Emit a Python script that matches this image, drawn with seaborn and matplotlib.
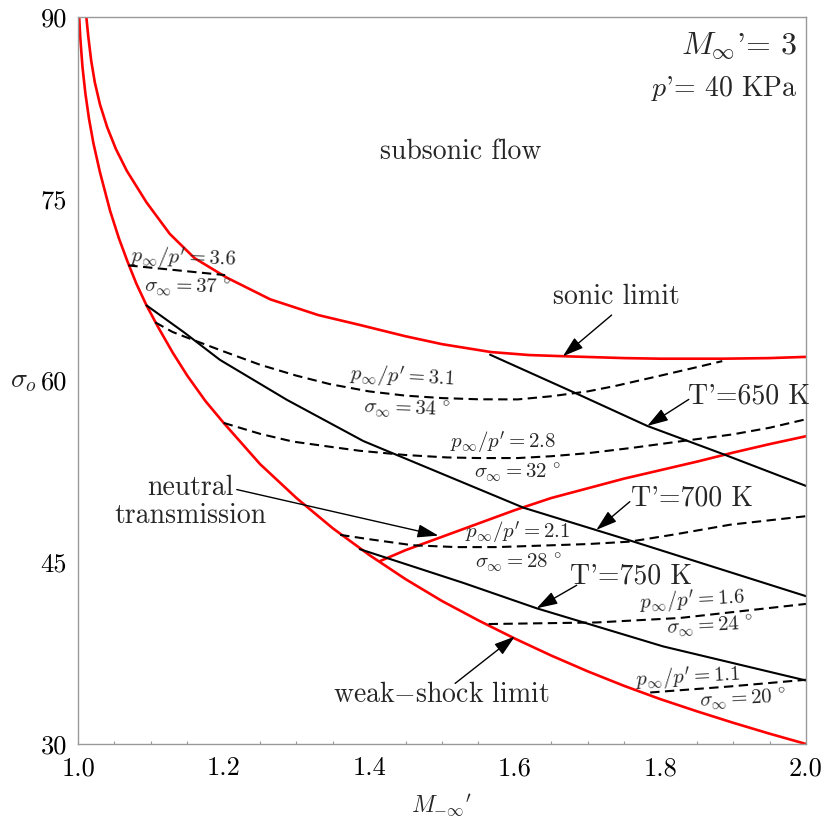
import matplotlib
matplotlib.use("Agg")
import matplotlib.pyplot as plt
import seaborn as sns
import pandas as pd
from matplotlib.ticker import MultipleLocator

# ---- data ----
weak_x = [1.0015, 1.003, 1.006, 1.01, 1.015, 1.021, 1.03, 1.044, 1.056, 1.068, 1.08, 1.094,
          1.11, 1.13, 1.15, 1.175, 1.2, 1.25, 1.3, 1.35, 1.4, 1.45, 1.5, 1.55, 1.6, 1.65,
          1.7, 1.75, 1.8, 1.85, 1.9, 1.95, 2.0]
weak_y = [90.0, 88.3, 85.9, 83.7, 81.6, 79.6, 77.2, 74.0, 71.75, 69.8, 68.0, 66.2,
          64.4, 62.3, 60.4, 58.3, 56.5, 53.1, 50.3, 47.8, 45.6, 43.6, 41.8, 40.2, 38.7, 37.3,
          36.0, 34.8, 33.7, 32.7, 31.75, 30.85, 30.0]

sonic_x = [1.011, 1.014, 1.018, 1.023, 1.03, 1.04, 1.052, 1.067, 1.094, 1.126, 1.16, 1.204,
           1.264, 1.33, 1.386, 1.45, 1.5, 1.567, 1.62, 1.669, 1.75, 1.8, 1.885, 1.95, 2.0]
sonic_y = [90.2, 88.4, 86.4, 84.6, 82.8, 80.9, 79.1, 77.3, 74.7, 72.1, 70.1, 68.5,
           66.7, 65.4, 64.6, 63.65, 63.0, 62.35, 62.1, 62.0, 61.85, 61.8, 61.8, 61.85, 61.95]

neutral_x = [1.415, 1.45, 1.5, 1.55, 1.6, 1.65, 1.7, 1.75, 1.8, 1.85, 1.9, 1.95, 2.0]
neutral_y = [45.1, 46.0, 47.1, 48.2, 49.3, 50.3, 51.1, 51.9, 52.6, 53.3, 54.05, 54.75, 55.4]

t650_x = [1.566, 1.687, 1.782, 1.885, 2.0]
t650_y = [62.13, 58.86, 56.25, 53.95, 51.3]
t700_x = [1.094, 1.145, 1.195, 1.287, 1.392, 1.5, 1.612, 1.758, 2.0]
t700_y = [66.2, 64.0, 61.7, 58.4, 55.0, 52.3, 49.5, 46.8, 42.2]
t750_x = [1.387, 1.529, 1.63, 1.804, 2.0]
t750_y = [46.08, 43.3, 41.2, 38.05, 35.24]

p36_x = [1.069, 1.202]
p36_y = [69.5, 68.7]
p31_x = [1.106, 1.13, 1.158, 1.2, 1.25, 1.3, 1.346, 1.4, 1.45, 1.5, 1.55, 1.604, 1.65, 1.7,
         1.738, 1.8, 1.85, 1.885]
p31_y = [64.8, 64.0, 63.35, 62.4, 61.3, 60.4, 59.7, 59.1, 58.75, 58.55, 58.45, 58.44, 58.7, 59.1,
         59.55, 60.4, 61.1, 61.6]
p28_x = [1.2, 1.25, 1.295, 1.35, 1.387, 1.45, 1.507, 1.55, 1.604, 1.65, 1.7, 1.761, 1.83,
         1.899, 1.95, 2.0]
p28_y = [56.5, 55.6, 54.96, 54.5, 54.2, 53.85, 53.65, 53.6, 53.6, 53.75, 54.0, 54.44, 55.0,
         55.55, 56.1, 56.8]
p21_x = [1.36, 1.4, 1.46, 1.52, 1.575, 1.65, 1.7, 1.758, 1.82, 1.896, 2.0]
p21_y = [47.26, 46.9, 46.4, 46.25, 46.25, 46.4, 46.5, 46.7, 47.3, 48.1, 48.8]
p16_x = [1.564, 1.712, 1.827, 2.0]
p16_y = [39.9, 40.03, 40.4, 41.56]
p11_x = [1.786, 1.896, 2.0]
p11_y = [34.25, 34.75, 35.3]

x_ticks = [1.0, 1.2, 1.4, 1.6, 1.8, 2.0]
y_ticks = [30, 45, 60, 75, 90]

# ---- style ----
sns.set_style("white")
plt.rcParams["font.family"] = ["serif"]
plt.rcParams["font.serif"] = ["cmr10", "DejaVu Serif"]
plt.rcParams["mathtext.fontset"] = "cm"
plt.rcParams["axes.formatter.use_mathtext"] = True

fig = plt.figure(figsize=(8.22, 8.19), dpi=100)
ax = fig.add_axes([0.095, 0.0916, 0.8855, 0.8876])

def draw(xs, ys, color, lw, dashes=None):
    df = pd.DataFrame({"x": xs, "y": ys})
    sns.lineplot(data=df, x="x", y="y", ax=ax, sort=False, estimator=None,
                 color=color, linewidth=lw)
    ln = ax.lines[-1]
    ln.set_solid_joinstyle("round")
    if dashes is not None:
        ln.set_dashes(dashes)

for xs, ys in [(weak_x, weak_y), (sonic_x, sonic_y), (neutral_x, neutral_y)]:
    draw(xs, ys, "#ff0000", 1.9)
for xs, ys in [(t650_x, t650_y), (t700_x, t700_y), (t750_x, t750_y)]:
    draw(xs, ys, "black", 1.5)
for xs, ys in [(p36_x, p36_y), (p31_x, p31_y), (p28_x, p28_y), (p21_x, p21_y),
               (p16_x, p16_y), (p11_x, p11_y)]:
    draw(xs, ys, "black", 1.5, dashes=(4.5, 2.6))

ax.set_xlim(1.0, 2.0)
ax.set_ylim(30, 90)
ax.set_xticks(x_ticks)
ax.set_xticklabels([f"{v:.1f}" for v in x_ticks])
ax.set_yticks(y_ticks)
ax.set_yticklabels([str(v) for v in y_ticks])
ax.xaxis.set_minor_locator(MultipleLocator(0.05))
ax.tick_params(axis="both", which="both", direction="in", color="#999999",
               labelsize=19, labelcolor="black", top=False, right=False)
ax.tick_params(axis="x", which="major", length=4, width=0.9, pad=9)
ax.tick_params(axis="x", which="minor", length=2, width=0.8, bottom=True)
ax.tick_params(axis="y", which="major", length=4, width=0.9, pad=8)
for s in ax.spines.values():
    s.set_color("#999999")
    s.set_linewidth(1.0)

ax.set_xlabel(r"$M_{-\infty}{}'$", fontsize=17)
ax.xaxis.set_label_coords(0.5, -0.067)
ax.set_ylabel(r"$\sigma_o$", fontsize=20, rotation=0, va="center", ha="center")
ax.yaxis.set_label_coords(-0.075, 0.5)

# ---- texts ----
big = 20
ax.text(1.988, 87.6, r"$M_\infty$'= 3", fontsize=23, ha="right", va="center")
ax.text(1.988, 84.1, r"$p$'= 40 KPa", fontsize=20, ha="right", va="center")
ax.text(1.525, 78.9, "subsonic flow", fontsize=big, ha="center", va="center")

arrow = dict(arrowstyle="-|>,head_length=0.85,head_width=0.27", color="black",
             lw=1.0, mutation_scale=15, shrinkA=0, shrinkB=0)

ax.text(1.74, 66.9, "sonic limit", fontsize=big, ha="center", va="center")
ax.annotate("", xy=(1.666, 62.0), xytext=(1.733, 65.4), arrowprops=arrow)
ax.text(1.922, 58.7, "T'=650 K", fontsize=big, ha="center", va="center")
ax.annotate("", xy=(1.782, 56.25), xytext=(1.839, 58.44), arrowprops=arrow)
ax.text(1.843, 50.3, "T'=700 K", fontsize=big, ha="center", va="center")
ax.annotate("", xy=(1.712, 47.67), xytext=(1.758, 50.0), arrowprops=arrow)
ax.text(1.759, 43.8, "T'=750 K", fontsize=big, ha="center", va="center")
ax.annotate("", xy=(1.63, 41.2), xytext=(1.685, 43.1), arrowprops=arrow)
ax.text(1.499, 34.06, r"weak$-$shock limit", fontsize=big, ha="center", va="center")
ax.annotate("", xy=(1.6, 38.87), xytext=(1.518, 35.0), arrowprops=arrow)
ax.text(1.154, 50.0, "neutral\ntransmission", fontsize=big, ha="center", va="center",
        multialignment="center", linespacing=1.05)
ax.annotate("", xy=(1.495, 47.2), xytext=(1.218, 51.0), arrowprops=arrow)

small = 15
labels = [
    (1.144, 70.1, r"$p_\infty/p' = 3.6$", -2),
    (1.151, 67.7, r"$\sigma_\infty = 37\,^\circ$", -1),
    (1.445, 60.24, r"$p_\infty/p' = 3.1$", -3),
    (1.452, 57.6, r"$\sigma_\infty = 34\,^\circ$", -2),
    (1.584, 54.85, r"$p_\infty/p' = 2.8$", 0),
    (1.604, 52.4, r"$\sigma_\infty = 32\,^\circ$", 0),
    (1.603, 47.4, r"$p_\infty/p' = 2.1$", 0),
    (1.605, 44.95, r"$\sigma_\infty = 28\,^\circ$", 0),
    (1.843, 41.8, r"$p_\infty/p' = 1.6$", 3),
    (1.868, 39.7, r"$\sigma_\infty = 24\,^\circ$", 3),
    (1.838, 35.46, r"$p_\infty/p' = 1.1$", 3),
    (1.913, 33.65, r"$\sigma_\infty = 20\,^\circ$", 3),
]
for x, y, s, r in labels:
    ax.text(x, y, s, fontsize=small, ha="center", va="center", rotation=r)

fig.savefig("out.png", dpi=100)
